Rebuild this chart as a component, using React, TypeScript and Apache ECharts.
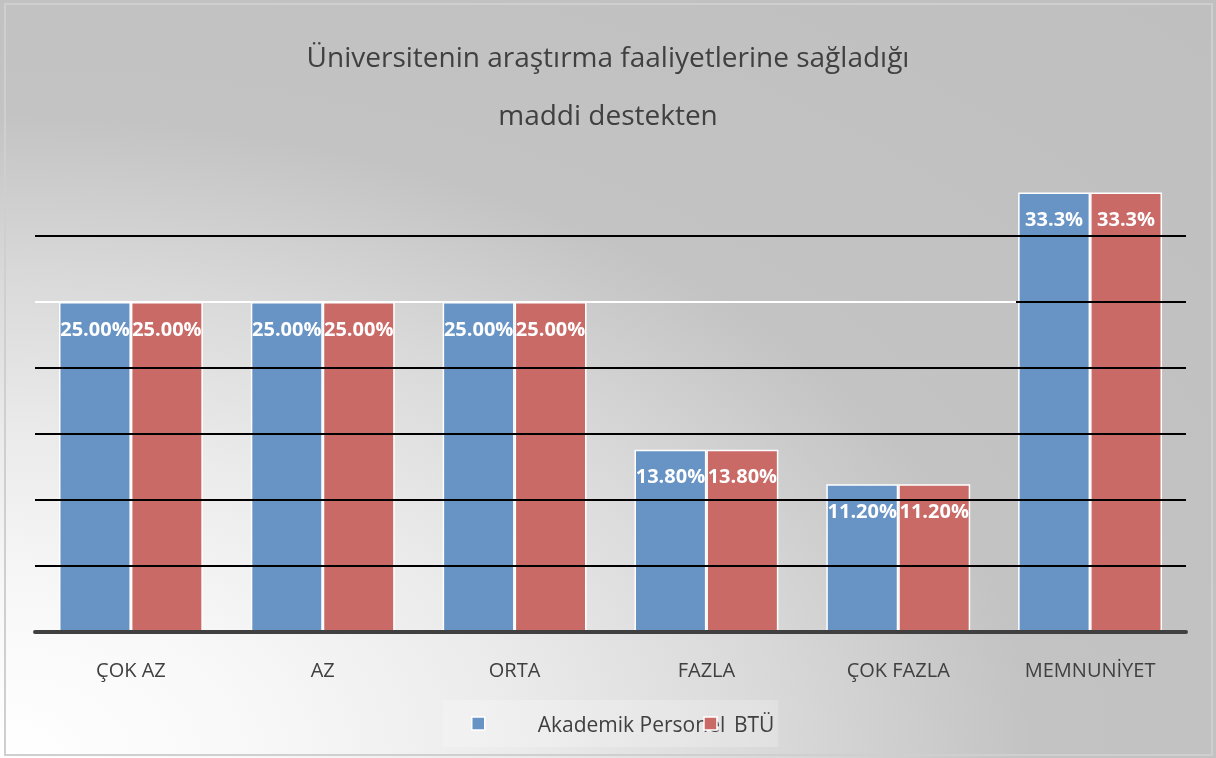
import React, { useEffect, useRef } from "react";
import * as echarts from "echarts";

const categories = ["ÇOK AZ", "AZ", "ORTA", "FAZLA", "ÇOK FAZLA", "MEMNUNİYET"];
const seriesNames = ["Akademik Personel", "BTÜ"];
const akademikValues = [25.0, 25.0, 25.0, 13.8, 11.2, 33.3];
const btuValues = [25.0, 25.0, 25.0, 13.8, 11.2, 33.3];
const akademikLabels = ["25.00%", "25.00%", "25.00%", "13.80%", "11.20%", "33.3%"];
const btuLabels = ["25.00%", "25.00%", "25.00%", "13.80%", "11.20%", "33.3%"];
const titleText = "Üniversitenin araştırma faaliyetlerine sağladığı\nmaddi destekten";

const FONT = "'Open Sans', 'Noto Sans', sans-serif";
const BLUE = "#6893c5";
const RED = "#c96a66";

export default function App() {
  const ref = useRef<HTMLDivElement>(null);

  useEffect(() => {
    if (!ref.current) return;
    const chart = echarts.init(ref.current, undefined, { renderer: "svg" });

    const labelCfg = (labels: string[]) => ({
      show: true,
      position: "insideTop",
      distance: 16,
      color: "#ffffff",
      fontFamily: FONT,
      fontWeight: "bold",
      fontSize: 20,
      formatter: (p: any) => labels[p.dataIndex],
    });

    chart.setOption({
      animation: false,
      backgroundColor: "transparent",
      textStyle: { fontFamily: FONT },
      title: {
        text: titleText,
        left: "center",
        top: 22,
        textStyle: {
          fontFamily: FONT,
          fontWeight: "normal",
          fontSize: 28,
          color: "#404040",
          lineHeight: 58,
        },
      },
      grid: { left: 35, right: 30, top: 170, bottom: 126, containLabel: false },
      legend: {
        left: 443,
        top: 700,
        orient: "horizontal",
        padding: [13, 4, 13, 28],
        backgroundColor: "rgba(255,255,255,0.22)",
        itemWidth: 13,
        itemHeight: 13,
        itemGap: -22,
        icon: "rect",
        itemStyle: { borderColor: "#ffffff", borderWidth: 1.5 },
        textStyle: { fontFamily: FONT, fontSize: 21, color: "#404040", lineHeight: 20 },
        data: [
          { name: seriesNames[0], textStyle: { padding: [0, 0, 0, 48] } },
          { name: seriesNames[1], textStyle: { padding: [0, 0, 0, 12] } },
        ],
      },
      graphic: [
        {
          type: "rect",
          shape: { x: 5, y: 4, width: 1207, height: 751 },
          style: { fill: "none", stroke: "#cfcfcf", lineWidth: 2 },
          silent: true,
          z: -1,
        },
      ],
      xAxis: {
        type: "category",
        data: categories,
        z: 4,
        axisLine: { show: true, lineStyle: { color: "#404040", width: 4 } },
        axisTick: { show: false },
        axisLabel: { margin: 27, fontFamily: FONT, fontSize: 20, color: "#404040" },
        splitLine: { show: false },
      },
      yAxis: {
        type: "value",
        min: 0,
        max: 35,
        interval: 5,
        z: 3,
        axisLine: { show: false },
        axisTick: { show: false },
        axisLabel: { show: false },
        splitLine: {
          show: true,
          lineStyle: {
            color: ["#000", "#000", "#000", "#000", "#000", "#000", "#000", "rgba(0,0,0,0)"],
            width: 2,
          },
        },
      },
      series: [
        {
          name: seriesNames[0],
          type: "bar",
          data: akademikValues,
          barGap: "0%",
          barCategoryGap: "25%",
          itemStyle: { color: BLUE, borderColor: "#ffffff", borderWidth: 1.5 },
          label: labelCfg(akademikLabels),
          markLine: {
            silent: true,
            symbol: "none",
            z: 5,
            label: { show: false },
            lineStyle: { color: "#ffffff", width: 2, type: "solid" },
            data: [[{ x: 35, yAxis: 25 }, { x: 1016, yAxis: 25 }]],
          },
        },
        {
          name: seriesNames[1],
          type: "bar",
          data: btuValues,
          barGap: "0%",
          barCategoryGap: "25%",
          itemStyle: { color: RED, borderColor: "#ffffff", borderWidth: 1.5 },
          label: labelCfg(btuLabels),
        },
      ],
    });

    return () => chart.dispose();
  }, []);

  return (
    <div
      ref={ref}
      style={{
        position: "fixed",
        left: 0,
        top: 0,
        width: 1216,
        height: 758,
        background:
          "radial-gradient(ellipse farthest-corner at 0% 100%, #ffffff 0%, #f8f8f8 15%, #ebebeb 30%, #d9d9d9 45%, #c3c3c3 60%, #bfbfbf 100%)",
      }}
    />
  );
}
